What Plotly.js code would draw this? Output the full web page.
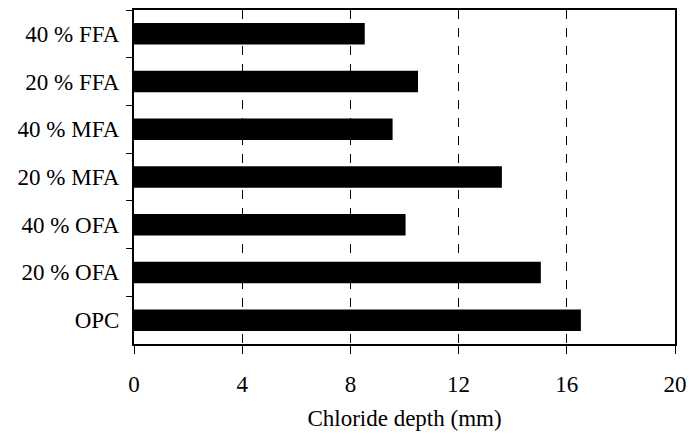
<!DOCTYPE html>
<html>
<head>
<meta charset="utf-8">
<script src="https://cdn.plot.ly/plotly-3.0.1.min.js"></script>
<style>html,body{margin:0;padding:0;background:#fff;}#chart{width:689px;height:439px;}</style>
</head>
<body>
<div id="chart"></div>
<script>
const categories = ["40 % FFA", "20 % FFA", "40 % MFA", "20 % MFA", "40 % OFA", "20 % OFA", "OPC"];
const chlorideDepth = [8.53, 10.5, 9.56, 13.6, 10.04, 15.04, 16.52];
const xTickValues = [0, 4, 8, 12, 16, 20];
const xTickLabels = ["0", "4", "8", "12", "16", "20"];

const font = {family: "Liberation Serif, Times New Roman, serif", size: 23, color: "#000"};

Plotly.newPlot("chart", [{
  type: "bar",
  orientation: "h",
  y: categories,
  x: chlorideDepth,
  marker: {color: "#000", line: {width: 0}},
  hoverinfo: "none"
}], {
  width: 689, height: 439,
  margin: {l: 134, r: 14, t: 10, b: 95},
  paper_bgcolor: "#fff", plot_bgcolor: "#fff",
  font: font,
  bargap: 0.55,
  showlegend: false,
  xaxis: {
    range: [0, 20],
    tickvals: xTickValues, ticktext: xTickLabels,
    ticks: "outside", ticklen: 8, tickwidth: 1, tickcolor: "#000",
    showgrid: true, gridcolor: "#000", gridwidth: 1, griddash: "dash",
    showline: true, linecolor: "#000", linewidth: 2, mirror: true,
    zeroline: false,
    ticklabelstandoff: 10,
    tickfont: font,
    title: {text: "Chloride depth (mm)", font: font, standoff: 14}
  },
  yaxis: {
    type: "category",
    autorange: "reversed",
    tickson: "boundaries",
    ticks: "outside", ticklen: 6, tickwidth: 1, tickcolor: "#000",
    showgrid: false,
    showline: true, linecolor: "#000", linewidth: 2, mirror: true,
    zeroline: false,
    ticklabelstandoff: 8,
    tickfont: font
  }
}, {displayModeBar: false, staticPlot: true});
</script>
</body>
</html>
